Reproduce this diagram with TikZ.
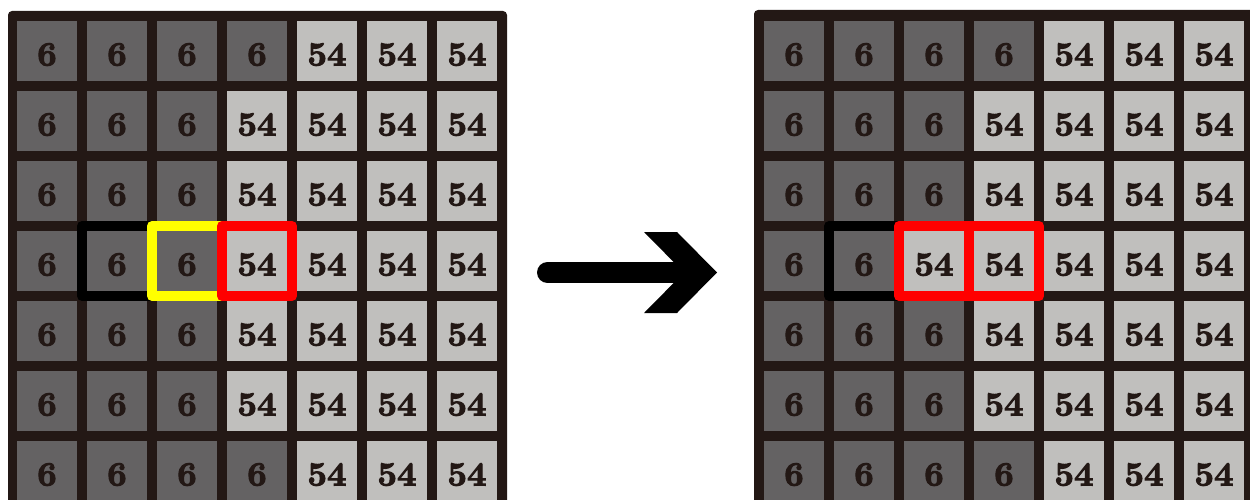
\documentclass[tikz,border=0pt]{standalone}
\usepackage{fontspec}
\newfontfamily\cellfont{lmroman10-bold.otf}[FakeBold=3]
\usetikzlibrary{fit,calc}
\definecolor{gridbg}{HTML}{231815}
\definecolor{darkcell}{HTML}{646263}
\definecolor{lightcell}{HTML}{C0BFBD}
\definecolor{hlyellow}{HTML}{FFFF00}
\definecolor{hlred}{HTML}{FF0000}
\begin{document}
\begin{tikzpicture}[x=1pt,y=-1pt,
  cell/.style={minimum size=60pt, inner sep=0pt, outer sep=0pt, text=gridbg,
    text height=29pt, text depth=0pt,
    font=\cellfont\fontsize{34}{34}\selectfont},
  dk/.style={cell, fill=darkcell},
  lt/.style={cell, fill=lightcell},
  hl/.style={draw=#1, line width=10pt, line join=round, inner sep=5pt, outer sep=0pt, fill=none},
  gridback/.style={fill=gridbg, rounded corners=4pt},
  bigarrow/.style={black, line width=21pt, line cap=round}]
\useasboundingbox (0,0) rectangle (1250,500);
% grid backgrounds
\fill[gridback] (8,11) rectangle (507,530);
\fill[gridback] (754,10) rectangle (1280,530);
% cells
\foreach \r in {0,...,6} {
  \foreach \c in {0,...,6} {
    \ifnum\r=0 \def\bL{4}\else\ifnum\r=6 \def\bL{4}\else\def\bL{3}\fi\fi
    \ifnum\r=0 \def\bR{4}\else\ifnum\r=6 \def\bR{4}\else\ifnum\r=3 \def\bR{2}\else\def\bR{3}\fi\fi\fi
    \ifnum\c<\bL
      \node[dk] (L-\r-\c) at ({47+70*\c},{51+70*\r}) {6};
    \else
      \node[lt] (L-\r-\c) at ({47+70*\c},{51+70*\r}) {54};
    \fi
    \ifnum\c<\bR
      \node[dk] (R-\r-\c) at ({794+70*\c},{51+70*\r}) {6};
    \else
      \node[lt] (R-\r-\c) at ({794+70*\c},{51+70*\r}) {54};
    \fi
  }
}
% highlights, left grid
\node[hl=black, fit=(L-3-1)] (Lblack) {};
\node[hl=hlyellow, fit=(L-3-2)] (Lyellow) {};
\node[hl=hlred, fit=(L-3-3)] (Lred) {};
% highlights, right grid
\node[hl=black, fit=(R-3-1)] (Rblack) {};
\node[hl=hlred, fit=(R-3-2)(R-3-3)] (Rred) {};
\coordinate (Rmid) at ($(R-3-2.east)!0.5!(R-3-3.west)$);
\draw[hlred, line width=10pt] (Rmid |- Rred.north) -- (Rmid |- Rred.south);
% arrow
\coordinate (arrS) at (547.5,272.5);
\coordinate (arrE) at (684,272.5);
\draw[bigarrow] (arrS) -- (arrE);
\fill[black] (644,232) -- (677,232) -- (717,272.5) -- (677,313) -- (644,313) -- (684,272.5) -- cycle;
\end{tikzpicture}
\end{document}
